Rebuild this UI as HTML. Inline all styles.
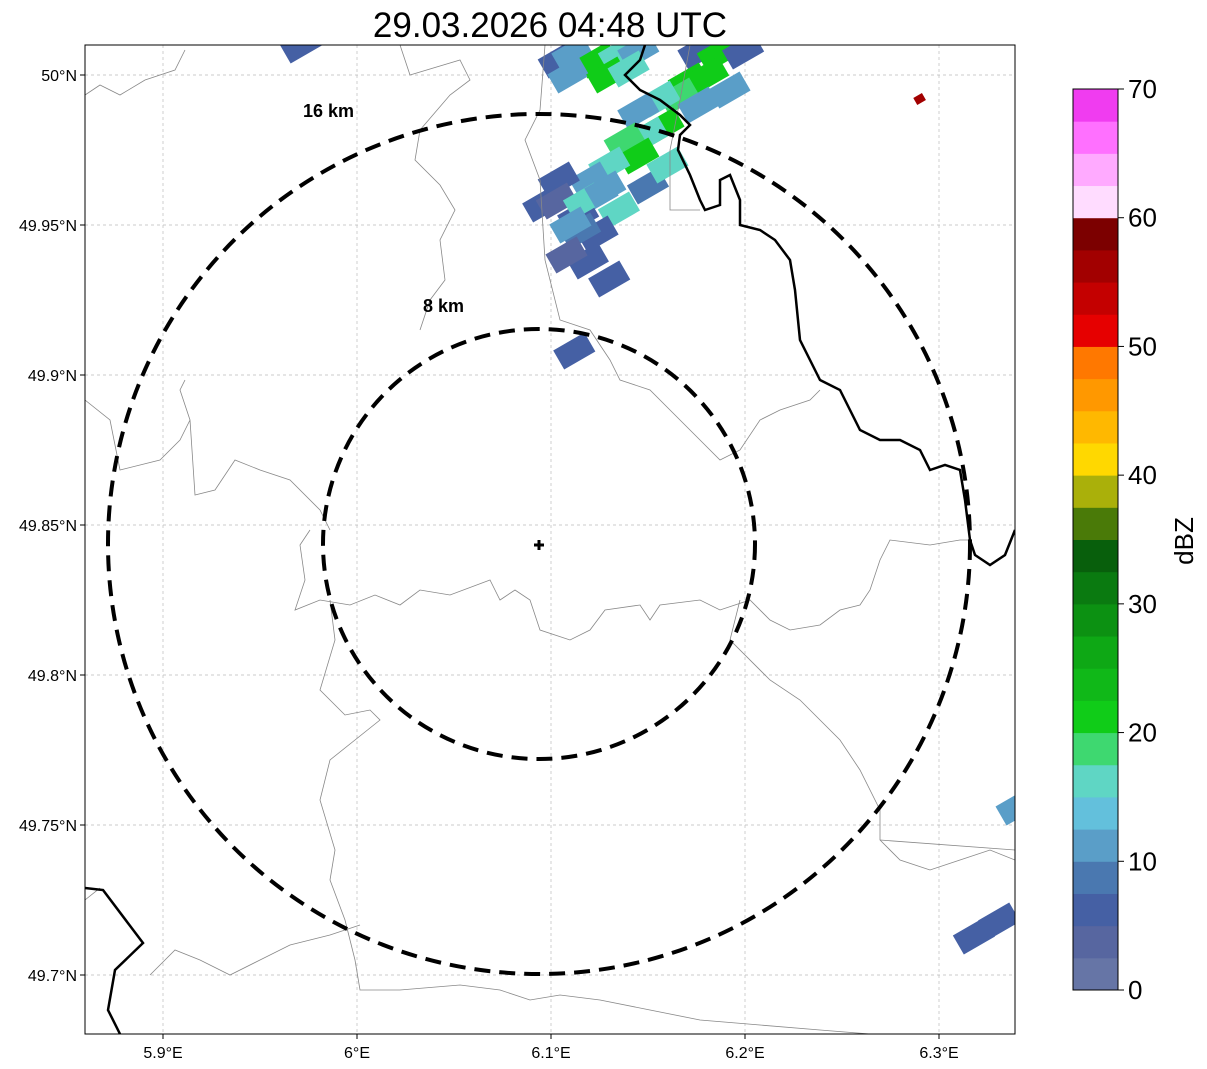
<!DOCTYPE html>
<html><head><meta charset="utf-8"><style>
body{margin:0;background:#fff;}
svg{display:block;font-family:"Liberation Sans",sans-serif;}
</style></head><body>
<svg id="chart" width="1207" height="1069">
<text x="550" y="37" font-size="35" text-anchor="middle">29.03.2026 04:48 UTC</text>
<defs><clipPath id="mapclip"><rect x="85" y="45" width="930" height="989"/></clipPath></defs>
<g id="grid"></g>
<g clip-path="url(#mapclip)">
<g id="echoes"></g>
<g fill="none" stroke="#888" stroke-width="0.8">
<path d="M85,95 L100,85 120,95 145,80 175,70 185,50 M180,45"/>
<path d="M400,45 L410,75 460,60 470,80 450,95 420,130 415,160 440,185 455,210 440,240 445,280 430,300 420,330"/>
<path d="M545,45 L540,110 525,140 540,180 545,260 560,320 590,330 610,360 620,380 650,390 670,410 700,440 720,460 740,450 760,420 780,410 810,400 820,390"/>
<path d="M690,45 L680,100 670,150 670,210 700,210"/>
<path d="M85,400 L110,420 120,470 160,460 180,440 190,420 180,390 185,380 M190,420 L195,495 215,490 235,460 260,470 290,480 320,510 330,530"/>
<path d="M310,530 L300,545 305,580 295,610 320,600 350,605 375,595 400,605 420,590 450,595 490,580 500,600 515,590 530,600 540,630 570,640 590,630 605,610 640,605 650,620 660,605 700,600 720,610 750,600 770,620 790,630 820,625 840,610 860,605 870,590 880,560 890,540 930,545 960,540 970,540"/>
<path d="M330,600 L335,640 320,690 345,715 370,710 380,720 330,760 320,800 335,850 330,880 345,920 355,960 360,990 400,990 460,985 500,990 530,1000 560,995 600,1000 650,1010 700,1020 760,1025 820,1030 870,1034"/>
<path d="M740,600 L730,640 770,680 800,700 840,740 860,770 880,810 880,840 900,860 930,870 960,860 990,850 1015,860"/>
<path d="M150,975 L175,950 200,960 230,975 260,960 290,945 330,935 360,925"/>
<path d="M85,900 L100,888 M880,840 L1015,850"/>
</g>
<g fill="none" stroke="#000" stroke-width="2.5">
<path d="M645,45 L640,60 625,75 640,90 660,100 680,115 690,125 680,135 678,150 690,175 700,200 705,210 720,205 720,180 730,175 740,200 740,225 760,230 775,240 790,260 795,290 800,340 810,360 820,380 840,390 850,410 860,430 880,440 900,440 920,450 930,470 945,465 960,470 965,500 970,540 975,555 990,565 1005,555 1015,530"/>
<path d="M85,888 L103,890 143,943 115,970 108,1010 120,1034"/>
</g>
</g>
<g fill="none" stroke="#000" stroke-width="4" stroke-dasharray="16,9">
<ellipse cx="539" cy="544" rx="431" ry="430"/>
<ellipse cx="539" cy="544" rx="216" ry="215"/>
</g>
<text x="303" y="117" font-size="18" font-weight="bold">16 km</text>
<text x="423" y="312" font-size="18" font-weight="bold">8 km</text>
<path d="M539,540 v10 M534,545 h10" stroke="#000" stroke-width="3"/>
<rect x="85" y="45" width="930" height="989" fill="none" stroke="#000" stroke-width="1"/>
<g id="axes" font-size="16"></g>
<g id="cbar"></g>
<text transform="translate(1193,541) rotate(-90)" font-size="26" text-anchor="middle">dBZ</text>
</svg>
<script>
const lonTicks=[5.9,6.0,6.1,6.2,6.3];
const lonLabels=["5.9°E","6°E","6.1°E","6.2°E","6.3°E"];
const latTicks=[50,49.95,49.9,49.85,49.8,49.75,49.7];
const latLabels=["50°N","49.95°N","49.9°N","49.85°N","49.8°N","49.75°N","49.7°N"];
const cbarLevels=[0,2.5,5,7.5,10,12.5,15,17.5,20,22.5,25,27.5,30,32.5,35,37.5,40,42.5,45,47.5,50,52.5,55,57.5,60,62.5,65,67.5];
const cbarColors=["#6675a6","#5766a0","#4560a4","#4a78b0","#5a9ec8","#63c0dc","#5fd6c4","#3ed870","#10cc18","#10b818","#0ea815","#0c9112","#0a7a10","#085f0c","#4a7a08","#aab00a","#ffd800","#ffb800","#ff9800","#ff7800","#e60000","#c40000","#a20000","#7c0000","#ffdcff","#ffaaff","#ff70ff","#f03cf0"];
const cbarTicks=[0,10,20,30,40,50,60,70];
// echo cells: lon, lat, dBZ
const echoLon=[5.971,6.104,6.111,6.124,6.135,6.145,6.176,6.186,6.199,6.109,6.129,6.140,6.171,6.181,6.192,6.166,6.156,6.176,6.145,6.158,6.150,6.138,6.145,6.130,6.120,6.104,6.096,6.124,6.135,6.114,6.124,6.119,6.130,6.112,6.290,6.318,6.331,6.340,6.150,6.160,6.115,6.103,6.108,6.117,6.110,6.128];
const echoLat=[50.010,50.005,50.007,50.005,50.007,50.008,50.008,50.007,50.008,50.000,50.000,50.002,49.998,50.000,49.995,49.993,49.992,49.990,49.988,49.983,49.980,49.978,49.973,49.970,49.965,49.965,49.957,49.960,49.955,49.953,49.947,49.938,49.932,49.908,49.992,49.713,49.718,49.756,49.963,49.970,49.948,49.958,49.940,49.958,49.950,49.962];
const echoDbz=[5,5,10,20,15,10,5,20,5,10,20,15,20,20,10,18,15,10,10,20,15,18,20,15,12,5,5,10,15,5,5,5,5,5,55,7,7,12,8,15,8,3,4,16,10,12];
const X=lon=>163+(lon-5.9)*1940, Y=lat=>75+(50-lat)*3000;
const NS="http://www.w3.org/2000/svg";
function mk(t,a,p){const e=document.createElementNS(NS,t);for(const k in a)e.setAttribute(k,a[k]);p.appendChild(e);return e;}
function colorFor(v){let c=cbarColors[0];cbarLevels.forEach((l,i)=>{if(v>=l)c=cbarColors[i];});return c;}
const grid=document.getElementById('grid'),axes=document.getElementById('axes');
lonTicks.forEach((t,i)=>{
 const l=mk('line',{x1:X(t),x2:X(t),y1:45,y2:1034,stroke:'#bbb','stroke-width':0.7,'stroke-dasharray':'3,3'},grid);
 
 
 const tk=mk('line',{x1:X(t),x2:X(t),y1:1034,y2:1039,stroke:'#000'},axes);
 
 
 const tx=mk('text',{x:X(t),y:1058,'text-anchor':'middle'},axes);tx.textContent=lonLabels[i];
 
 
});
latTicks.forEach((t,i)=>{
 const l=mk('line',{x1:85,x2:1015,y1:Y(t),y2:Y(t),stroke:'#bbb','stroke-width':0.7,'stroke-dasharray':'3,3'},grid);
 
 
 const tk=mk('line',{x1:80,x2:85,y1:Y(t),y2:Y(t),stroke:'#000'},axes);
 
 
 const tx=mk('text',{x:77,y:Y(t)+6,'text-anchor':'end'},axes);tx.textContent=latLabels[i];
 
 
});
const eg=document.getElementById('echoes');
echoLon.forEach((lo,i)=>{
 const x=X(lo),y=Y(echoLat[i]);
 const r=mk('rect',{x:x-18,y:y-11,width:36,height:22,fill:colorFor(echoDbz[i]),transform:`rotate(-30 ${x} ${y})`},eg);
 if(echoDbz[i]>=50){r.setAttribute('width',10);r.setAttribute('height',8);r.setAttribute('x',x-5);r.setAttribute('y',y-4);}
 
 
});
const cb=document.getElementById('cbar');
const cbTop=89,cbBot=990,cbX=1073,cbW=45,CY=v=>cbBot-(v/70)*(cbBot-cbTop);
cbarLevels.forEach((l,i)=>{
 const top=CY(l+2.5),bot=CY(l);
 const r=mk('rect',{x:cbX,y:top,width:cbW,height:bot-top+0.5,fill:cbarColors[i]},cb);
 
 
});
const fr=mk('rect',{x:cbX,y:cbTop,width:cbW,height:cbBot-cbTop,fill:'none',stroke:'#000','stroke-width':1},cb);


cbarTicks.forEach(t=>{
 const tk=mk('line',{x1:cbX+cbW,x2:cbX+cbW+6,y1:CY(t),y2:CY(t),stroke:'#000'},cb);
 
 
 const tx=mk('text',{x:1128,y:CY(t)+9,'font-size':26},cb);tx.textContent=t;
 
 
});
</script>
</body></html>
